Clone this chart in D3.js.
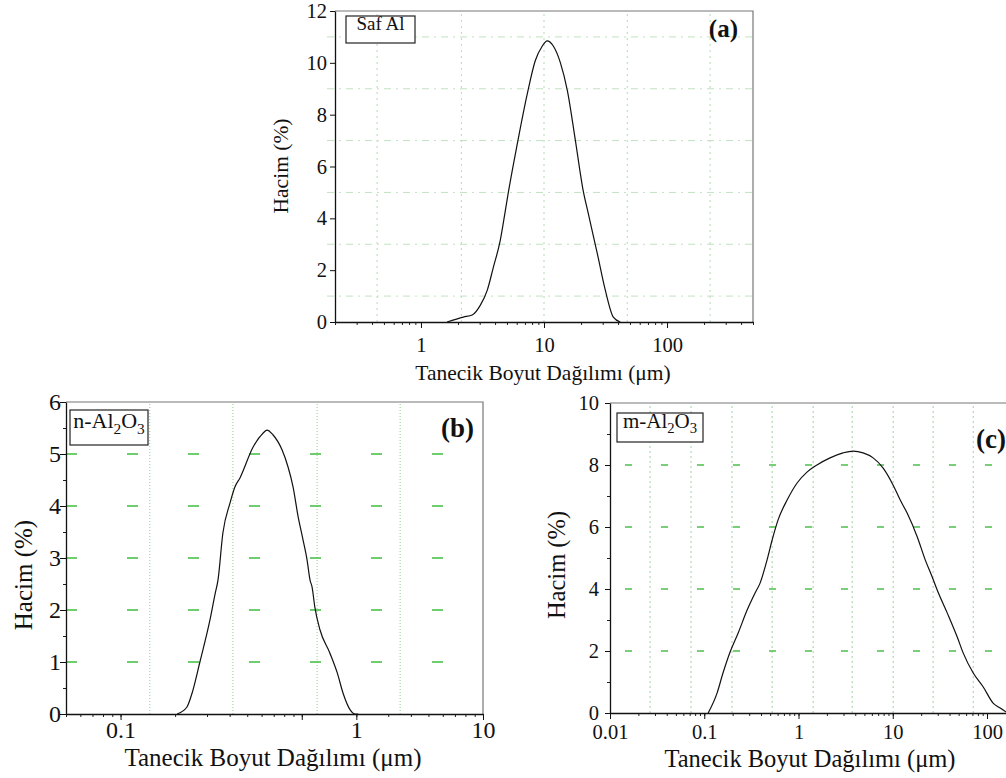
<!DOCTYPE html>
<html lang="tr">
<head>
<meta charset="utf-8">
<title>Tanecik Boyut Dağılımı</title>
<script src="https://d3js.org/d3.v7.min.js"></script>
<style>
  body { margin: 0; background: #fff; }
  text { font-family: "Liberation Serif", "Times New Roman", serif; fill: #111; }
</style>
</head>
<body>
<script>
// (a) Saf Al
var sizeA = [1.63, 2.21, 2.61, 3.04, 3.46, 3.87, 4.41, 4.85, 5.13, 6.07, 7.31, 8.49, 9.69, 10.6, 11.9, 13.6, 15.5, 18.0, 20.8, 22.9, 27.1, 31.5, 36.6, 41.7];
var volA  = [0, 0.19, 0.27, 0.65, 1.23, 2.1, 3.15, 4.3, 5.0, 6.88, 8.8, 10.08, 10.65, 10.85, 10.65, 10.0, 8.92, 7.0, 5.08, 4.19, 2.65, 1.23, 0.19, 0];
var xTicksA = [1, 10, 100];
var xLabelsA = ["1", "10", "100"];
var yTicksA = [0, 2, 4, 6, 8, 10, 12];
var gridXA = [0.44, 2.13, 10, 47.5, 224];
var gridYA = [1, 3, 5, 7, 9, 11];

// (b) n-Al2O3
var sizeB = [0.205, 0.232, 0.248, 0.274, 0.311, 0.332, 0.345, 0.367, 0.402, 0.428, 0.456, 0.538, 0.611, 0.643, 0.693, 0.778, 0.840, 0.895, 0.954, 1.016, 1.07, 1.11, 1.14, 1.18, 1.26, 1.43, 1.57, 1.69, 1.85, 1.97, 2.05];
var volB  = [0, 0.13, 0.4, 1.0, 1.8, 2.3, 2.58, 3.48, 4.06, 4.37, 4.54, 5.13, 5.4, 5.46, 5.37, 5.08, 4.75, 4.37, 3.8, 3.35, 2.96, 2.58, 2.44, 2.06, 1.62, 1.17, 0.79, 0.40, 0.08, 0, 0];
var xTicksB = [0.1, 2, 10];          // label "1" sits at the 2 position in the original
var xLabelsB = ["0.1", "1", "10"];
var yTicksB = [0, 1, 2, 3, 4, 5, 6];
var gridXB = [0.145, 0.417, 1.215, 3.49];
var gridYB = [1, 2, 3, 4, 5];

// (c) m-Al2O3
var sizeC = [0.110, 0.137, 0.158, 0.188, 0.229, 0.285, 0.346, 0.391, 0.464, 0.525, 0.607, 0.757, 0.966, 1.23, 1.57, 2.16, 2.97, 3.80, 4.85, 6.19, 7.91, 10.1, 12.0, 14.2, 18.2, 22.1, 26.2, 29.6, 37.8, 48.3, 55.8, 71.4, 91.2, 116, 138, 160];
var volC  = [0, 0.65, 1.29, 1.97, 2.58, 3.32, 3.87, 4.19, 4.94, 5.58, 6.23, 6.87, 7.42, 7.77, 8.0, 8.23, 8.39, 8.45, 8.39, 8.23, 7.9, 7.35, 6.87, 6.45, 5.68, 4.94, 4.39, 3.97, 3.23, 2.45, 1.94, 1.29, 0.84, 0.32, 0.16, 0.03];
var xTicksC = [0.01, 0.1, 1, 10, 100];
var xLabelsC = ["0.01", "0.1", "1", "10", "100"];
var yTicksC = [0, 2, 4, 6, 8, 10];
var gridXC = [0.0266, 0.0724, 0.197, 0.525, 1.43, 3.71, 10.1, 26.8, 71.4];
var gridYC = [2, 4, 6, 8];

var xTitle = "Tanecik Boyut Dağılımı (μm)";
var yTitle = "Hacim (%)";

var w = 1006, h = 778;
var svg = d3.select("body").append("svg")
  .attr("width", w).attr("height", h);
svg.append("rect").attr("width", w).attr("height", h).attr("fill", "#fff");

function drawPanel(p) {
  var g = svg.append("g");
  var x = p.x, y = p.y;
  var xl = x.range()[0], xr = x.range()[1], yb = y.range()[0], yt = y.range()[1];

  // vertical grid
  g.selectAll(".vg").data(p.gridX).join("line")
    .attr("x1", d => x(d)).attr("x2", d => x(d))
    .attr("y1", yb).attr("y2", yt)
    .attr("stroke", p.vgColor).attr("stroke-width", 1)
    .attr("stroke-dasharray", p.vgDash);

  // horizontal grid
  g.selectAll(".hg").data(p.gridY).join("line")
    .attr("x1", xl - (p.hgExtend || 0)).attr("x2", xr)
    .attr("y1", d => y(d)).attr("y2", d => y(d))
    .attr("stroke", p.hgColor).attr("stroke-width", p.hgWidth)
    .attr("stroke-dasharray", p.hgDash)
    .attr("stroke-dashoffset", p.hgOffset || 0);

  // top/right frame
  g.append("path")
    .attr("d", "M" + xl + "," + yt + "H" + xr + "V" + yb)
    .attr("fill", "none").attr("stroke", "#777").attr("stroke-width", 1.2);

  // curve
  var line = d3.line()
    .x(d => x(d[0])).y(d => y(d[1]))
    .curve(d3.curveMonotoneX);
  g.append("path")
    .datum(d3.zip(p.sizes, p.vols))
    .attr("d", line)
    .attr("fill", "none").attr("stroke", "#111").attr("stroke-width", 1.2);

  // x minor ticks
  g.append("g").attr("transform", "translate(0," + yb + ")")
    .call(d3.axisBottom(x).tickValues(x.ticks()).tickSize(3).tickFormat(""))
    .call(s => s.select(".domain").remove())
    .selectAll("line").attr("stroke", "#222");

  // x major ticks
  var xa = g.append("g").attr("transform", "translate(0," + yb + ")")
    .call(d3.axisBottom(x).tickValues(p.xMajor).tickSize(6).tickSizeOuter(0)
      .tickPadding(p.xPad).tickFormat((d, i) => p.xLabels[i]));
  xa.select(".domain").attr("stroke", "#111").attr("stroke-width", 1.3);
  xa.selectAll("line").attr("stroke", "#111");
  xa.selectAll("text").attr("font-size", p.tickFont).attr("fill", "#111");
  if (p.xExtraMajor) {
    g.append("g").attr("transform", "translate(0," + yb + ")")
      .call(d3.axisBottom(x).tickValues(p.xExtraMajor).tickSize(6).tickFormat(""))
      .call(s => s.select(".domain").remove())
      .selectAll("line").attr("stroke", "#111");
  }

  // y minor ticks
  if (p.yMinor) {
    g.append("g").attr("transform", "translate(" + xl + ",0)")
      .call(d3.axisLeft(y).tickValues(p.yMinor).tickSize(3).tickFormat(""))
      .call(s => s.select(".domain").remove())
      .selectAll("line").attr("stroke", "#222");
  }

  // y major ticks
  var ya = g.append("g").attr("transform", "translate(" + xl + ",0)")
    .call(d3.axisLeft(y).tickValues(p.yMajor).tickSize(p.yTick).tickSizeOuter(0)
      .tickPadding(p.yPad).tickFormat(d3.format("d")));
  ya.select(".domain").attr("stroke", "#111").attr("stroke-width", 1.3);
  ya.selectAll("line").attr("stroke", "#111");
  ya.selectAll("text").attr("font-size", p.tickFont).attr("fill", "#111");

  // axis titles
  g.append("text")
    .attr("x", p.xTitlePos[0]).attr("y", p.xTitlePos[1])
    .attr("text-anchor", "middle").attr("font-size", p.titleFont)
    .text(xTitle);
  g.append("text")
    .attr("transform", "translate(" + p.yTitlePos[0] + "," + p.yTitlePos[1] + ") rotate(-90)")
    .attr("text-anchor", "middle").attr("dy", "0.35em").attr("font-size", p.titleFont)
    .text(yTitle);

  // legend box
  var lb = p.legend;
  g.append("rect")
    .attr("x", lb.box[0]).attr("y", lb.box[1])
    .attr("width", lb.box[2]).attr("height", lb.box[3])
    .attr("fill", "#fff").attr("stroke", "#222").attr("stroke-width", 1.2);
  var lt = g.append("text")
    .attr("x", lb.box[0] + lb.box[2] / 2).attr("y", lb.box[1] + lb.box[3] / 2)
    .attr("dy", "0.35em").attr("text-anchor", "middle")
    .attr("font-size", lb.font);
  lb.parts.forEach(function (t) {
    if (t.sub) {
      lt.append("tspan").attr("dy", lb.font * 0.28).attr("font-size", lb.font * 0.7).text(t.text);
    } else {
      lt.append("tspan").attr("dy", t.back ? -lb.font * 0.28 : 0).text(t.text);
    }
  });

  // panel letter
  g.append("text")
    .attr("x", p.letterPos[0]).attr("y", p.letterPos[1])
    .attr("text-anchor", "end").attr("font-weight", "bold")
    .attr("font-size", p.letterFont)
    .text(p.letter);
}

// (a)
drawPanel({
  x: d3.scaleLog().domain([0.2, 500]).range([335, 753]),
  y: d3.scaleLinear().domain([0, 12]).range([322, 11]),
  sizes: sizeA, vols: volA,
  gridX: gridXA, vgColor: "#b3dbb3", vgDash: "2,4",
  gridY: gridYA, hgColor: "#c0e2c0", hgWidth: 1, hgDash: "7,5,2,5", hgExtend: 8,
  xMajor: xTicksA, xLabels: xLabelsA, xPad: 9,
  yMajor: yTicksA, yTick: 5, yPad: 3,
  tickFont: 20.5, titleFont: 21.5,
  xTitlePos: [543, 380], yTitlePos: [280, 166],
  legend: { box: [346, 16, 69, 27], font: 19, parts: [{ text: "Saf Al" }] },
  letter: "(a)", letterPos: [738, 37], letterFont: 25
});

// (b)
drawPanel({
  x: d3.scaleLog().domain([0.05, 10]).range([66, 483]),
  y: d3.scaleLinear().domain([0, 6]).range([714, 402]),
  sizes: sizeB, vols: volB,
  gridX: gridXB, vgColor: "#8fcf8f", vgDash: "1,2",
  gridY: gridYB, hgColor: "#3fbf3f", hgWidth: 1.6, hgDash: "11,50",
  xMajor: xTicksB, xLabels: xLabelsB, xPad: 1, xExtraMajor: [1],
  yMajor: yTicksB, yMinor: d3.range(0.5, 6, 1), yTick: 6, yPad: -1,
  tickFont: 24, titleFont: 25,
  xTitlePos: [273, 766], yTitlePos: [23, 575],
  legend: { box: [70, 410, 78, 35], font: 22,
    parts: [{ text: "n-Al" }, { text: "2", sub: true }, { text: "O", back: true }, { text: "3", sub: true }] },
  letter: "(b)", letterPos: [474, 437], letterFont: 27
});

// (c)
drawPanel({
  x: d3.scaleLog().domain([0.01, 300]).range([610, 1032]),
  y: d3.scaleLinear().domain([0, 10]).range([713, 403]),
  sizes: sizeC, vols: volC,
  gridX: gridXC, vgColor: "#9fd29f", vgDash: "2,3",
  gridY: gridYC, hgColor: "#4cc04c", hgWidth: 1.6, hgDash: "7,29", hgOffset: 21,
  xMajor: xTicksC, xLabels: xLabelsC, xPad: 5,
  yMajor: yTicksC, yMinor: d3.range(1, 10, 2), yTick: 5, yPad: 6,
  tickFont: 20.5, titleFont: 24.5,
  xTitlePos: [810, 767], yTitlePos: [556, 565],
  legend: { box: [617, 413, 86, 29], font: 21,
    parts: [{ text: "m-Al" }, { text: "2", sub: true }, { text: "O", back: true }, { text: "3", sub: true }] },
  letter: "(c)", letterPos: [1006, 448], letterFont: 27
});
</script>
</body>
</html>
